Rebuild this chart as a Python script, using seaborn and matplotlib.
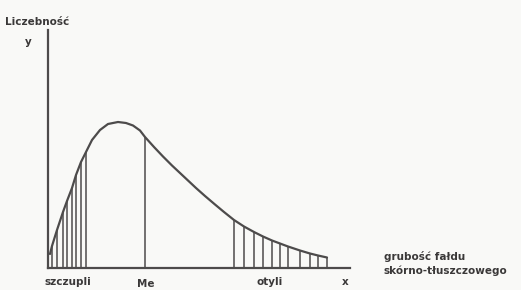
import numpy as np
import pandas as pd
import matplotlib
matplotlib.use("Agg")
import matplotlib.pyplot as plt
import seaborn as sns

sns.set_theme(style="white")
plt.rcParams['font.family'] = ['DejaVu Sans']

# curve points (x = skinfold thickness, y = frequency)
curve_x = [2, 4, 9, 15, 19, 24, 28, 33, 38, 44, 52, 60, 70, 78, 85, 92, 97,
           106, 115, 124, 132, 140, 148, 157, 167, 176, 186, 196, 206, 215,
           224, 232, 240, 252, 262, 270, 279]
curve_y = [14, 22, 38, 56, 67, 80, 93, 106, 116, 128, 138, 144, 146, 145, 142.5,
           137.5, 131, 121, 111.5, 102.5, 95, 87.5, 80, 72, 63.5, 56, 48, 41.5,
           36, 31.5, 27.5, 24.5, 21.5, 17.5, 14.5, 12.5, 10.5]

# hatched tails and median
lean_x = [4, 9, 15, 19, 24, 28, 33, 38]
obese_x = [186, 196, 206, 215, 224, 232, 240, 252, 262, 270, 279]
median_x = 97

ink = "#4d4b4b"
paper = "#f9f9f7"

W, H = 521, 290
fig = plt.figure(figsize=(W / 100, H / 100), dpi=100, facecolor=paper)
ax = fig.add_axes([48 / W, 22 / H, 302 / W, 238 / H])
ax.set_facecolor(paper)

df = pd.DataFrame({"x": curve_x, "y": curve_y})
sns.lineplot(data=df, x="x", y="y", ax=ax, color=ink, linewidth=1.6)

lookup = dict(zip(curve_x, curve_y))
ax.vlines(lean_x, 0, [lookup[v] for v in lean_x], color=ink, linewidth=1.1)
ax.vlines(obese_x, 0, [lookup[v] for v in obese_x], color=ink, linewidth=1.1)
ax.vlines([median_x], 0, [lookup[median_x]], color=ink, linewidth=1.1)

ax.set_xlim(0, 302)
ax.set_ylim(0, 238)
ax.set_xticks([])
ax.set_yticks([])
ax.set_xlabel("")
ax.set_ylabel("")
for s in ["top", "right"]:
    ax.spines[s].set_visible(False)
for s in ["left", "bottom"]:
    ax.spines[s].set_color(ink)
    ax.spines[s].set_linewidth(1.6)


def put(px, py, txt, ha="center"):
    fig.text(px / W, 1 - py / H, txt, ha=ha, va="center", color="#3a3838",
             fontsize=7.5, fontweight="bold")


put(5, 22, "Liczebność", ha="left")
put(28, 42, "y")
put(68, 282, "szczupli")
put(146, 284, "Me")
put(270, 282, "otyli")
put(345, 282, "x")
put(384, 256, "grubość fałdu", ha="left")
put(384, 271, "skórno-tłuszczowego", ha="left")

fig.savefig("out.png", dpi=100, facecolor=paper)
